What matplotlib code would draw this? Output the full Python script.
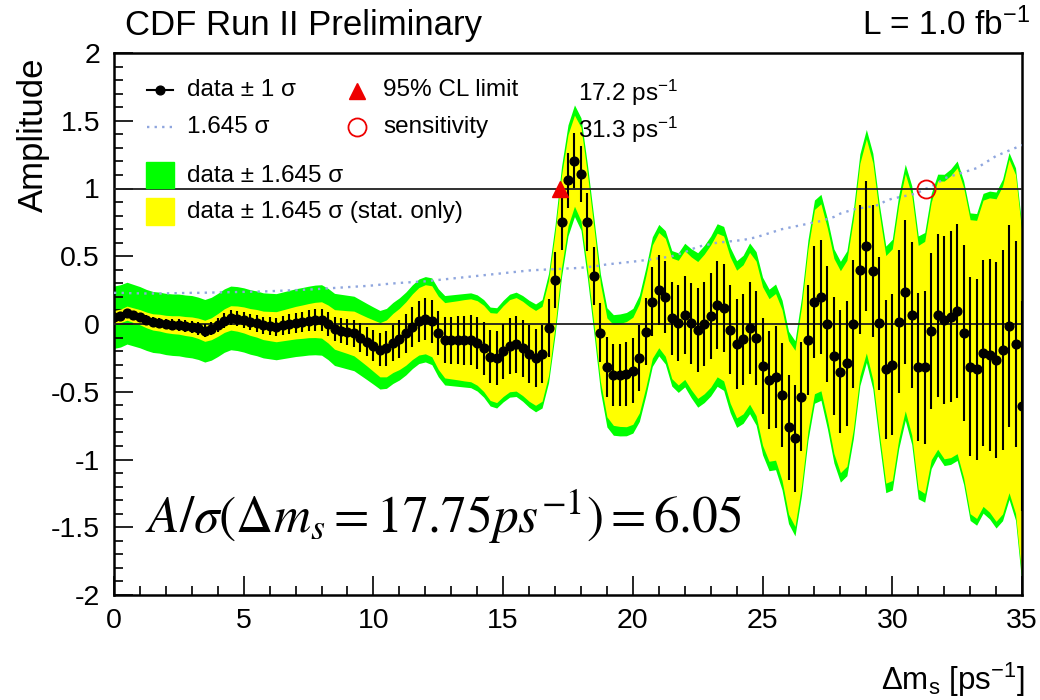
import numpy as np
import matplotlib
matplotlib.use("Agg")
import matplotlib.pyplot as plt
from matplotlib.ticker import MultipleLocator

plt.rcParams['font.family'] = ['Liberation Sans', 'DejaVu Sans']
plt.rcParams['mathtext.fontset'] = 'custom'
plt.rcParams['mathtext.rm'] = 'Liberation Sans'
plt.rcParams['mathtext.it'] = 'Liberation Sans:italic'

# ---------------- data ----------------
dms_step = 0.25
dms = np.arange(0, 141) * dms_step          # 0 .. 35 ps^-1

amplitude = [
    0.05, 0.06, 0.08, 0.065, 0.05, 0.03, 0.015, 0.01,
    0.0, -0.005, -0.007, -0.015, -0.02, -0.032, -0.05, -0.035,
    -0.007, 0.025, 0.045, 0.04, 0.03, 0.015, 0.005, -0.01,
    -0.015, -0.02, -0.01, 0.0, 0.01, 0.017, 0.025, 0.03,
    0.03, 0.0, -0.04, -0.05, -0.06, -0.07, -0.10, -0.13,
    -0.16, -0.19, -0.18, -0.14, -0.11, -0.07, -0.02, 0.02,
    0.035, 0.02, -0.065, -0.12, -0.12, -0.12, -0.12, -0.12,
    -0.14, -0.18, -0.24, -0.25, -0.20, -0.16, -0.15, -0.18,
    -0.22, -0.25, -0.22, -0.03, 0.325, 0.755, 1.06, 1.205,
    1.107, 0.755, 0.354, -0.064, -0.32, -0.376, -0.376, -0.37,
    -0.345, -0.253, -0.057, 0.165, 0.25, 0.197, 0.042, 0.01,
    0.066, 0.005, -0.044, 0.0, 0.059, 0.14, 0.115, -0.044,
    -0.148, -0.113, -0.032, -0.106, -0.31, -0.413, -0.39, -0.524,
    -0.763, -0.844, -0.536, -0.118, 0.165, 0.197, 0.0, -0.236,
    -0.352, -0.29, 0.0, 0.40, 0.576, 0.39, 0.005, -0.335,
    -0.30, 0.017, 0.234, 0.066, -0.32, -0.32, -0.052, 0.066,
    0.03, 0.054, 0.098, -0.064, -0.315, -0.335, -0.216, -0.229,
    -0.266, -0.192, -0.015, -0.148, -0.605,
]

# 1.645 sigma (total) -- the dotted line / half width of green band
band_total = [
    0.23, 0.23, 0.228, 0.227, 0.226, 0.225, 0.225, 0.225,
    0.226, 0.227, 0.228, 0.229, 0.23, 0.23, 0.231, 0.232,
    0.233, 0.234, 0.235, 0.236, 0.237, 0.238, 0.239, 0.24,
    0.242, 0.244, 0.246, 0.248, 0.25, 0.252, 0.254, 0.257,
    0.26, 0.263, 0.266, 0.269, 0.272, 0.275, 0.278, 0.281,
    0.285, 0.29, 0.295, 0.299, 0.303, 0.306, 0.309, 0.312,
    0.315, 0.32, 0.325, 0.33, 0.335, 0.34, 0.345, 0.35,
    0.355, 0.36, 0.365, 0.37, 0.375, 0.38, 0.385, 0.39,
    0.395, 0.398, 0.40, 0.403, 0.405, 0.407, 0.41, 0.412,
    0.415, 0.42, 0.425, 0.432, 0.44, 0.445, 0.45, 0.455,
    0.46, 0.466, 0.472, 0.478, 0.485, 0.492, 0.50, 0.515,
    0.53, 0.55, 0.57, 0.58, 0.59, 0.60, 0.605, 0.61,
    0.615, 0.62, 0.63, 0.64, 0.655, 0.67, 0.685, 0.70,
    0.71, 0.72, 0.73, 0.74, 0.75, 0.76, 0.775, 0.79,
    0.815, 0.83, 0.845, 0.855, 0.86, 0.87, 0.88, 0.91,
    0.925, 0.935, 0.945, 0.955, 0.97, 0.995, 1.015, 1.04,
    1.075, 1.09, 1.105, 1.12, 1.135, 1.15, 1.18, 1.21,
    1.24, 1.26, 1.28, 1.30, 1.32,
]

# 1.645 sigma (stat. only) -- half width of yellow band
band_stat = [
    0.05, 0.05, 0.052, 0.054, 0.056, 0.058, 0.06, 0.062,
    0.064, 0.066, 0.068, 0.07, 0.072, 0.075, 0.078, 0.081,
    0.084, 0.087, 0.09, 0.093, 0.096, 0.099, 0.102, 0.105,
    0.108, 0.111, 0.114, 0.117, 0.12, 0.123, 0.126, 0.13,
    0.134, 0.14, 0.146, 0.152, 0.158, 0.165, 0.172, 0.18,
    0.19, 0.2, 0.21, 0.218, 0.226, 0.234, 0.242, 0.249,
    0.255, 0.262, 0.27, 0.278, 0.285, 0.292, 0.30, 0.306,
    0.312, 0.318, 0.324, 0.33, 0.335, 0.34, 0.345, 0.348,
    0.35, 0.35, 0.35, 0.35, 0.345, 0.34, 0.338, 0.336,
    0.345, 0.35, 0.355, 0.36, 0.365, 0.372, 0.38, 0.388,
    0.395, 0.403, 0.41, 0.418, 0.425, 0.435, 0.445, 0.46,
    0.475, 0.49, 0.505, 0.515, 0.525, 0.53, 0.535, 0.54,
    0.545, 0.55, 0.56, 0.57, 0.585, 0.6, 0.615, 0.63,
    0.64, 0.65, 0.66, 0.67, 0.68, 0.69, 0.705, 0.72,
    0.745, 0.76, 0.775, 0.785, 0.79, 0.80, 0.81, 0.84,
    0.855, 0.865, 0.875, 0.885, 0.9, 0.93, 0.95, 0.99,
    1.025, 1.04, 1.055, 1.07, 1.085, 1.1, 1.13, 1.16,
    1.19, 1.21, 1.23, 1.25, 1.27,
]

limit_95 = 17.2
sensitivity = 31.3
xticks = [0, 5, 10, 15, 20, 25, 30, 35]
yticks = [-2, -1.5, -1, -0.5, 0, 0.5, 1, 1.5, 2]
ytick_labels = ['-2', '-1.5', '-1', '-0.5', '0', '0.5', '1', '1.5', '2']

# ---------------- plot ----------------
A = np.array(amplitude)
bt = np.array(band_total)
bs = np.array(band_stat)

GREEN = '#00ff00'
YELLOW = '#ffff00'
DOT = '#8fa6de'
RED = '#ee0000'

fig = plt.figure(figsize=(10.4, 7), dpi=100)
ax = fig.add_axes([114/1040, 105/700, 908/1040, 542/700])

ax.fill_between(dms, A - bt, A + bt, color=GREEN, lw=0, zorder=1)
ax.fill_between(dms, A - bs, A + bs, color=YELLOW, lw=0, zorder=2)
ax.plot(dms, bt, color=DOT, ls=(0, (1, 2.2)), lw=1.7, zorder=3)
ax.axhline(0, color='#202020', lw=1.3, zorder=3)
ax.axhline(1, color='#202020', lw=1.3, zorder=3)
ax.errorbar(dms, A, yerr=bs / 1.645, fmt='o', color='black', ms=6.3,
            elinewidth=1.5, capsize=0, zorder=4)
ax.plot([limit_95], [1.0], marker='^', color=RED, ms=12, ls='none', zorder=5)
ax.plot([sensitivity], [1.0], marker='o', mfc='none', mec=RED, mew=1.3,
        ms=13, ls='none', zorder=5)

ax.set_xlim(0, 35)
ax.set_ylim(-2, 2)
ax.set_xticks(xticks)
ax.set_yticks(yticks)
ax.set_yticklabels(ytick_labels)
ax.xaxis.set_minor_locator(MultipleLocator(1))
ax.yaxis.set_minor_locator(MultipleLocator(0.1))
ax.tick_params(which='both', direction='in', top=False, right=False,
               labelsize=20.5, width=1.2)
ax.tick_params(which='major', length=14)
ax.tick_params(which='minor', length=6.5)
ax.tick_params(axis='y', pad=10)
ax.tick_params(axis='x', pad=9)
for s in ax.spines.values():
    s.set_linewidth(1.8)

# ---------------- legend (manual, ROOT style) ----------------
def axc(px, py):
    return ((px - 114) / 908, (595 - py) / 542)

T = ax.transAxes
lfs = 17.5
x0, y0 = axc(147, 90); x1, _ = axc(173, 90)
ax.plot([x0, x1], [y0, y0], color='black', lw=1.5, transform=T, zorder=6)
ax.plot([(x0 + x1) / 2], [y0], 'o', color='black', ms=6.3, transform=T, zorder=6)
ax.text(*axc(187, 90), 'data ± 1 σ', transform=T, fontsize=lfs, va='center')
x0, y0 = axc(147, 127); x1, _ = axc(172, 127)
ax.plot([x0, x1], [y0, y0], color=DOT, ls=(0, (1, 2.2)), lw=1.7, transform=T)
ax.text(*axc(187, 127), '1.645 σ', transform=T, fontsize=lfs, va='center')
ax.plot(*axc(357, 91), marker='^', color=RED, ms=12, transform=T)
ax.text(*axc(383, 90), '95% CL limit', transform=T, fontsize=lfs, va='center')
ax.plot(*axc(357, 127), marker='o', mfc='none', mec=RED, mew=1.3, ms=13,
        transform=T)
ax.text(*axc(383, 127), 'sensitivity', transform=T, fontsize=lfs, va='center')
bx0, by0 = axc(146, 188)
ax.add_patch(plt.Rectangle((bx0, by0), 28/908, 26/542, color=GREEN,
                           transform=T, zorder=6))
ax.text(*axc(187, 176), 'data ± 1.645 σ', transform=T, fontsize=lfs, va='center')
bx0, by0 = axc(146, 225)
ax.add_patch(plt.Rectangle((bx0, by0), 28/908, 27/542, color=YELLOW,
                           transform=T, zorder=6))
ax.text(*axc(187, 212), 'data ± 1.645 σ (stat. only)', transform=T,
        fontsize=lfs, va='center')
ax.text(*axc(578, 93), r'17.2 ps$\mathregular{^{-1}}$', transform=T,
        fontsize=lfs, va='center')
ax.text(*axc(578, 130), r'31.3 ps$\mathregular{^{-1}}$', transform=T,
        fontsize=lfs, va='center')

ax.text(*axc(145, 533), r'$A/\sigma(\Delta m_s = 17.75 ps^{-1}) = 6.05$',
        transform=T, fontsize=37, va='baseline', math_fontfamily='stix',
        zorder=7)

# ---------------- titles ----------------
fig.text(125/1040, 1 - 25/700, 'CDF Run II Preliminary', fontsize=25,
         va='center', ha='left')
fig.text(1030/1040, 1 - 25/700, r'L = 1.0 fb$\mathregular{^{-1}}$', fontsize=24,
         va='center', ha='right')
fig.text(33/1040, 1 - 58/700, 'Amplitude', fontsize=25, rotation=90,
         ha='center', va='top')
fig.text(1025/1040, 1 - 680/700, r'$\Delta$m$\mathregular{_s}$ [ps$\mathregular{^{-1}}$]',
         fontsize=22.5, ha='right', va='center')

fig.savefig('out.png', dpi=100)
